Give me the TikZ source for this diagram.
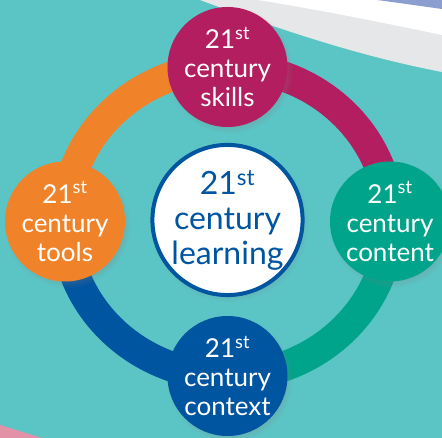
\documentclass[tikz,border=0pt]{standalone}
\usepackage{fontspec}
\setmainfont{Lato}
\usepackage{xcolor}
\definecolor{bgteal}{HTML}{5BC5C6}
\definecolor{skillred}{HTML}{B21E5F}
\definecolor{toolorange}{HTML}{F0832A}
\definecolor{contentgreen}{HTML}{00A48B}
\definecolor{contextblue}{HTML}{0055A1}
\definecolor{bandgray}{HTML}{E6E7E8}
\definecolor{bandblue}{HTML}{8C9ED0}
\definecolor{cornerpink}{HTML}{E391A6}
\usepackage{tikz}
\usetikzlibrary{backgrounds,shadows}

\begin{document}
\begin{tikzpicture}[x=1pt,y=1pt,
  spoke/.style={circle,minimum size=120pt,inner sep=0pt,text=white,align=center,
    font=\fontsize{26}{29}\selectfont,
    circular drop shadow={shadow xshift=2pt,shadow yshift=-3pt,shadow scale=1.06,opacity=0.3}},
  hub/.style={circle,fill=white,draw=contextblue,line width=4pt,minimum size=150pt,
    inner sep=0pt,text=contextblue,align=center,font=\fontsize{32}{35}\selectfont,
    circular drop shadow={shadow xshift=2pt,shadow yshift=-3pt,shadow scale=1.06,opacity=0.3}},
  ring/.style={line width=30pt,x radius=162.5pt,y radius=154.5pt}]
  \begin{scope}[on background layer]
    \fill[bgteal] (0,0) rectangle (442,438);
    \fill[bandgray] (200,438) .. controls (300,401) and (370,380) .. (442,366) -- (442,438) -- cycle;
    \fill[white] (258,438) .. controls (320,428) and (380,416) .. (442,403) -- (442,438) -- cycle;
    \fill[bandblue] (377,438) .. controls (400,435) and (420,432) .. (442,429) -- (442,438) -- cycle;
    \fill[cornerpink] (0,13) -- (42,0) -- (0,0) -- cycle;
  \end{scope}
  \useasboundingbox (0,0) rectangle (442,438);

  \node[hub] (learn) at (227.5,218) {21\textsuperscript{st}\\century\\learning};
  \node[spoke,fill=skillred] (skills) at (227.5,371) {21\textsuperscript{st}\\century\\skills};
  \node[spoke,fill=toolorange] (tools) at (65,216.5) {21\textsuperscript{st}\\century\\tools};
  \node[spoke,fill=contentgreen] (content) at (390,216.5) {21\textsuperscript{st}\\century\\content};
  \node[spoke,fill=contextblue] (context) at (227.5,62) {21\textsuperscript{st}\\century\\context};

  \begin{scope}[on background layer]
    \draw[ring,toolorange] (tools.center) arc[start angle=180,end angle=90];
    \draw[ring,skillred] (skills.center) arc[start angle=90,end angle=0];
    \draw[ring,contentgreen] (content.center) arc[start angle=0,end angle=-90];
    \draw[ring,contextblue] (context.center) arc[start angle=270,end angle=180];
  \end{scope}
\end{tikzpicture}
\end{document}
